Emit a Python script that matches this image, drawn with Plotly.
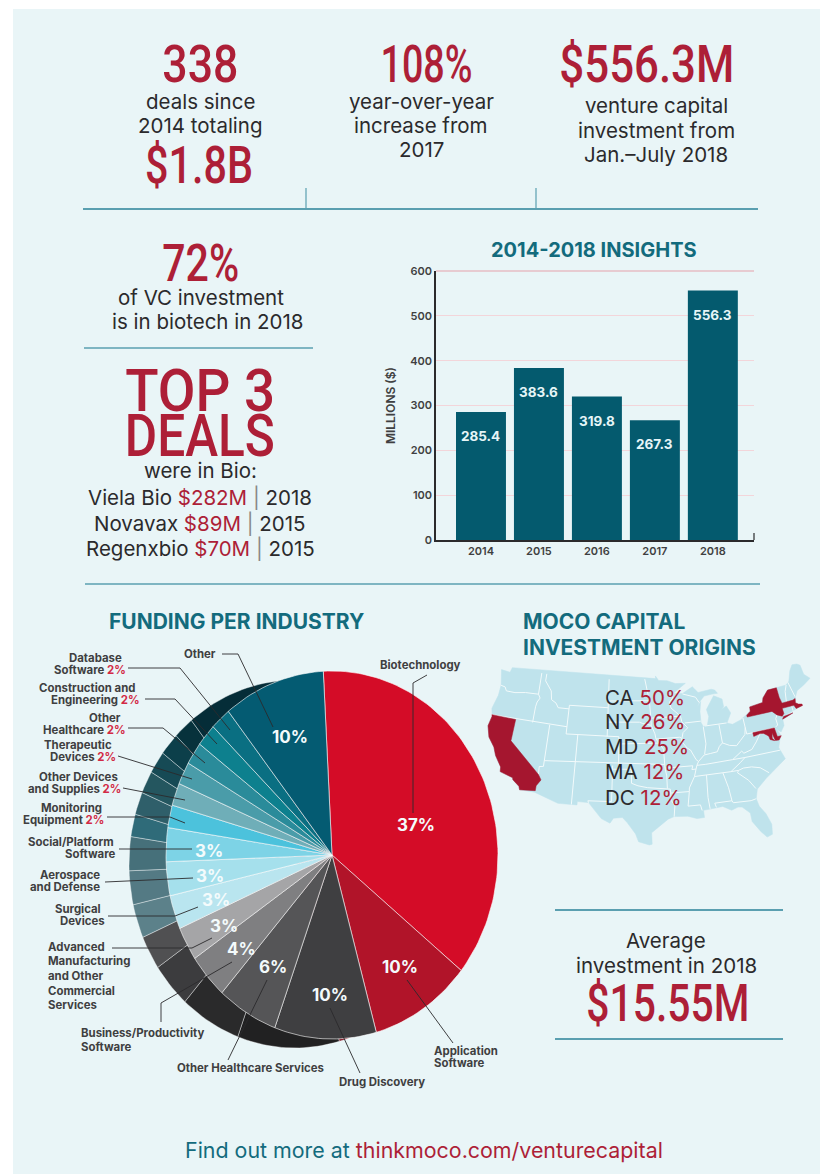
import math
import plotly.graph_objects as go

# ---------- data ----------
YEARS = ["2014", "2015", "2016", "2017", "2018"]
VC_MILLIONS = [285.4, 383.6, 319.8, 267.3, 556.3]

INDUSTRIES = ["Biotechnology", "Application Software", "Drug Discovery", "Other Healthcare Services",
              "Business/Productivity Software", "Advanced Manufacturing and Other Commercial Services",
              "Surgical Devices", "Aerospace and Defense", "Social/Platform Software",
              "Monitoring Equipment", "Other Devices and Supplies", "Therapeutic Devices",
              "Other Healthcare", "Construction and Engineering", "Database Software", "Other"]
SHARES = [37, 10, 10, 6, 4, 3, 3, 3, 3, 2, 2, 2, 2, 2, 2, 10]
FACE_COLORS = ["#d40c27", "#b11429", "#3f3f41", "#555557", "#7f7f81", "#a5a5a7", "#b9e5ef", "#a5e0ec",
               "#7dd3e6", "#4cc2dc", "#6faeb8", "#4a9ca9", "#2a8b9a", "#0d808e", "#0a6f82", "#045b72"]
SIDE_COLORS = ["#8f0a1c", "#7d0e1d", "#212122", "#2a2a2b", "#3c3c3e", "#505052", "#5c818a", "#547a84",
               "#46707a", "#2f6b79", "#2f5f6a", "#24565f", "#164a55", "#0c3f4a", "#07323c", "#052d38"]

STATES = ["CA", "NY", "MD", "MA", "DC"]
STATE_PCT = ["50%", "26%", "25%", "12%", "12%"]

USA_OUTLINE = [(-124.7,48.4),(-123.0,48.3),(-122.8,49.0),(-95.15,49.0),(-95.15,49.38),(-94.6,48.7),(-93.0,48.6),(-91.5,48.1),(-89.6,48.0),(-92.1,46.75),(-90.4,46.6),(-88.4,47.4),(-87.5,46.5),(-85,46.7),(-84.4,46.5),(-84,46),(-85,46.0),(-86.5,45.9),(-87.6,45.1),(-88,44.55),(-87.3,45.2),(-87.7,43.8),(-87.8,42.3),(-87.5,41.7),(-86.8,41.8),(-86.3,43),(-86.5,44),(-85.5,45),(-84.8,45.75),(-83.4,45.1),(-83.4,44),(-83.9,43.7),(-82.9,44.05),(-82.4,43),(-83.1,42.2),(-83.4,41.7),(-82.5,41.4),(-81,41.8),(-79,42.7),(-78.9,43.3),(-76.5,43.5),(-76.2,44.1),(-75,45),(-71.5,45),(-70.8,45.4),(-70.3,46.2),(-70,46.7),(-69.2,47.45),(-68.3,47.35),(-67.8,47.05),(-67.8,45.7),(-67,44.9),(-68.5,44.3),(-70,43.8),(-70.7,43),(-70.8,42.6),(-71,42.3),(-70.6,41.95),(-70,41.8),(-70.5,41.6),(-71.2,41.5),(-72,41.3),(-73.7,40.95),(-72,41.05),(-73.9,40.55),(-74,40.5),(-74.1,39.7),(-74.9,38.95),(-75.5,39.5),(-75.1,38.6),(-75.9,37.15),(-76,36.9),(-75.5,35.25),(-76.5,34.7),(-77.9,33.9),(-79.2,33.2),(-80.9,32),(-81.4,30.7),(-81.2,29.6),(-80.5,28.4),(-80.05,26.8),(-80.3,25.4),(-81.1,25.15),(-81.8,26.1),(-82.7,27.7),(-82.7,28.9),(-83.7,29.9),(-84.3,30),(-85.3,29.7),(-86.5,30.4),(-88,30.3),(-89.4,30.2),(-89.4,29.2),(-90.5,29.15),(-91.8,29.6),(-93.8,29.7),(-94.7,29.4),(-96,28.5),(-97.2,27.6),(-97.2,26),(-97.6,25.9),(-99.1,26.4),(-99.5,27.5),(-100.7,29.1),(-101.4,29.8),(-102.7,29.7),(-103.2,29),(-104.5,29.6),(-106.5,31.75),(-108.2,31.8),(-108.2,31.33),(-111.07,31.33),(-114.8,32.5),(-117.1,32.53),(-117.3,33),(-118.4,33.75),(-118.5,34.03),(-120.6,34.55),(-120.7,35.2),(-121.9,36.6),(-122.5,37.7),(-123.7,38.9),(-124.35,40.4),(-124.1,41.8),(-124.5,42.85),(-124,44.8),(-124,46.3),(-124.7,48.4)]

STATE_BORDERS = [
 [(-124,46.25),(-123.2,46.15),(-122.8,45.65),(-121.2,45.65),(-119.3,45.93),(-116.92,46.0)],
 [(-117.03,49),(-117.04,46.4),(-116.92,46),(-116.5,45.5),(-116.9,44.9),(-117.03,44.2),(-117.03,42)],
 [(-124.2,42),(-111.05,42)],
 [(-114.04,42),(-114.04,36.2),(-114.7,36.1),(-114.63,35)],
 [(-114.04,37),(-94.62,37)],
 [(-109.05,41),(-109.05,31.33)],
 [(-103,37),(-103,36.5),(-103.04,32),(-106.62,32),(-106.5,31.75)],
 [(-103,36.5),(-100,36.5),(-100,34.56),(-99,34.2),(-97.5,33.9),(-96,33.75),(-94.48,33.65),(-94.04,33.55),(-94.04,31.99),(-93.55,31.2),(-93.8,29.7)],
 [(-111.05,45),(-104.05,45)],[(-111.05,41),(-102.05,41),(-102.05,37)],[(-111.05,45),(-111.05,41)],[(-104.05,49),(-104.05,41)],
 [(-116.05,49),(-116.05,48),(-114.7,46.7),(-114.4,45.5),(-113.5,45.1),(-113,44.5),(-111.05,44.5)],
 [(-102.05,40),(-95.3,40)],
 [(-104.05,43),(-98.5,43),(-97.9,42.8),(-96.45,42.5)],
 [(-104.05,45.94),(-96.56,45.94)],
 [(-97.23,49),(-96.56,45.94),(-96.45,43.5),(-91.22,43.5)],
 [(-95.77,40.58),(-91.73,40.6),(-91.4,40.4)],
 [(-96.45,43.5),(-96.45,42.5),(-95.9,41.3),(-95.77,40.58),(-95.3,40),(-94.62,39.1),(-94.62,36.5),(-94.43,35.4),(-94.48,33.65)],
 [(-94.62,36.5),(-90.15,36.5),(-90.37,36),(-89.7,36)],
 [(-94.04,33),(-91.17,33)],
 [(-92.1,46.75),(-92.3,46.1),(-92.9,45.6),(-92.75,44.75),(-91.22,43.5),(-91.1,42.7),(-90.2,41.8),(-91.1,41.2),(-91.4,40.4),(-91.5,40),(-90.7,39),(-90.2,38.7),(-89.5,37.3),(-89.15,37),(-89.5,36.5),(-89.7,36),(-90.1,35),(-91.1,33.5),(-91.17,33),(-91.6,31),(-89.75,31),(-89.6,30.2)],
 [(-90.64,42.5),(-87.8,42.5)],[(-90.4,46.55),(-88.1,45.9),(-87.6,45.1)],
 [(-87.53,41.7),(-87.53,39.3),(-88,37.9)],
 [(-89.15,37),(-88.1,37.8),(-87,37.9),(-85.9,38),(-85.4,38.7),(-84.8,39.1),(-83.7,38.6),(-82.6,38.4),(-81.8,39),(-80.85,39.7),(-80.52,40.64)],
 [(-84.8,41.7),(-84.8,39.1)],[(-87.2,41.76),(-84.8,41.7),(-83.45,41.73)],
 [(-80.52,42),(-80.52,39.72),(-75.79,39.72)],
 [(-74.7,41.36),(-75.1,40.9),(-75.1,40.0),(-75.5,39.8)],
 [(-81.97,37.54),(-81.7,37.2),(-80.3,37.5),(-79.3,38.4),(-78.35,39.4),(-77.75,39.32)],
 [(-81.97,37.54),(-83.68,36.6)],
 [(-89.5,36.5),(-88.05,36.5),(-83.68,36.6),(-81.68,36.59),(-75.87,36.55)],
 [(-81.68,36.59),(-82.6,36),(-84.32,35),(-83.1,35),(-82.3,35.2),(-81,35.15),(-79.7,34.8),(-78.55,33.87)],
 [(-90.1,35),(-84.32,35)],
 [(-83.1,35),(-83.35,34.7),(-81.9,33.4),(-81.1,32.1)],
 [(-85.6,34.98),(-85.15,32.85),(-85,31)],
 [(-87.6,31),(-85,31),(-84.86,30.7),(-82.2,30.57),(-81.45,30.7)],
 [(-88.2,35),(-88.47,31.9),(-88.4,30.3)],[(-87.6,31),(-87.45,30.4)],
 [(-71.5,45),(-72.05,44.2),(-72.45,42.73)],[(-71.05,45.3),(-70.7,43.1)],
 [(-71.8,42.02),(-71.85,41.32)],
]

STATE_SHAPES = {
 "CA": [(-124.2,42),(-120,42),(-120,39),(-114.63,35),(-114.1,34.3),(-114.7,33.4),(-114.72,32.72),(-117.1,32.53),(-117.3,33),(-118.4,33.75),(-118.5,34.03),(-120.6,34.55),(-120.7,35.2),(-121.9,36.6),(-122.5,37.7),(-123.7,38.9),(-124.35,40.4),(-124.1,41.8),(-124.2,42)],
 "NY": [(-79.76,42.27),(-79.76,42),(-75.35,42),(-74.7,41.36),(-73.9,41),(-73.5,41.3),(-73.5,42.05),(-73.25,42.75),(-73.4,43.6),(-73.35,45),(-75,45),(-76.2,44.1),(-76.5,43.5),(-78.9,43.3),(-79,42.7),(-79.76,42.27)],
 "NY-LI": [(-74,40.6),(-72,41.05),(-73.7,40.9),(-74,40.6)],
 "MD": [(-79.48,39.72),(-75.79,39.72),(-75.7,38.46),(-75.05,38.45),(-75.6,37.95),(-76.2,38),(-76.4,39.1),(-76.6,38.4),(-76.3,38),(-77,38.3),(-77.05,38.8),(-77.75,39.32),(-78.35,39.4),(-79.48,39.2),(-79.48,39.72)],
 "MA": [(-73.5,42.05),(-71.4,42.02),(-71.2,41.5),(-70.6,41.6),(-70,41.65),(-70,41.85),(-70.6,42),(-71,42.3),(-70.8,42.87),(-71.25,42.74),(-73.27,42.75),(-73.5,42.05)],
 "DC": [(-77.12,38.93),(-77.04,39),(-76.91,38.89),(-77.04,38.79),(-77.12,38.93)],
}

# ---------- constants ----------
W, H = 821, 1174
RED = "#ad1f37"
TEAL = "#136b7d"
INK = "#2b2a2c"
RULE = "#5a9fb0"
BODY = "Inter, 'Open Sans', sans-serif"
BIG = "Roboto, sans-serif"

fig = go.Figure()

# ---------- projection for the map (Albers) ----------
def albers(lon, lat):
    p1, p2, p0, l0 = map(math.radians, (29.5, 45.5, 37.5, -101))
    n = (math.sin(p1) + math.sin(p2)) / 2
    c = math.cos(p1) ** 2 + 2 * n * math.sin(p1)
    rho = lambda p: math.sqrt(c - 2 * n * math.sin(p)) / n
    th = n * (math.radians(lon) - l0)
    r = rho(math.radians(lat))
    return r * math.sin(th), rho(p0) - r * math.cos(th)

_pts = [albers(*p) for p in USA_OUTLINE]
_x0, _x1 = min(p[0] for p in _pts), max(p[0] for p in _pts)
_y0, _y1 = min(p[1] for p in _pts), max(p[1] for p in _pts)
MAP_L, MAP_R, MAP_T, MAP_B = 488, 810, 664, 845
def to_px(path):
    xs, ys = [], []
    for lon, lat in path:
        ax, ay = albers(lon, lat)
        xs.append(MAP_L + (ax - _x0) / (_x1 - _x0) * (MAP_R - MAP_L))
        ys.append(MAP_B - (ay - _y0) / (_y1 - _y0) * (MAP_B - MAP_T))
    return xs, ys

# ---------- elliptical pie with a side band ----------
CX, CY, RX, RY = 332, 855, 166, 184
DEPTH_X, DEPTH_Y = -37, 9
START_DEG = -3.0
def wedge(cx, cy, a0, a1):
    n = max(2, int((a1 - a0) / 1.5))
    xs, ys = [cx], [cy]
    for i in range(n + 1):
        t = math.radians(a0 + (a1 - a0) * i / n)
        xs.append(cx + RX * math.sin(t))
        ys.append(cy - RY * math.cos(t))
    xs.append(cx); ys.append(cy)
    return xs, ys

_total = sum(SHARES)
_bounds = [START_DEG]
for s in SHARES:
    _bounds.append(_bounds[-1] + s / _total * 360)

for i, name in enumerate(INDUSTRIES):
    xs, ys = wedge(CX + DEPTH_X, CY + DEPTH_Y, _bounds[i], _bounds[i + 1])
    fig.add_trace(go.Scatter(x=xs, y=ys, mode="lines", fill="toself", fillcolor=SIDE_COLORS[i],
                             line=dict(color="rgba(255,255,255,0.55)", width=0.7),
                             hoverinfo="skip", showlegend=False))
for i, name in enumerate(INDUSTRIES):
    xs, ys = wedge(CX, CY, _bounds[i], _bounds[i + 1])
    fig.add_trace(go.Scatter(x=xs, y=ys, mode="lines", fill="toself", fillcolor=FACE_COLORS[i],
                             line=dict(color="rgba(255,255,255,0.75)", width=0.8),
                             name=name, text=f"{name}: {SHARES[i]}%", hoverinfo="text", showlegend=False))

# ---------- map ----------
xs, ys = to_px(USA_OUTLINE)
fig.add_trace(go.Scatter(x=xs, y=ys, mode="lines", fill="toself", fillcolor="#bfe3ec",
                         line=dict(color="#bfe3ec", width=0.5), hoverinfo="skip", showlegend=False))
for seg in STATE_BORDERS:
    xs, ys = to_px(seg)
    fig.add_trace(go.Scatter(x=xs, y=ys, mode="lines", line=dict(color="#f2fafb", width=1),
                             hoverinfo="skip", showlegend=False))
for key, path in STATE_SHAPES.items():
    xs, ys = to_px(path)
    fig.add_trace(go.Scatter(x=xs, y=ys, mode="lines", fill="toself", fillcolor="#a5162f",
                             line=dict(color="#a5162f", width=0.5), hoverinfo="skip", showlegend=False))

# ---------- bars ----------
fig.add_trace(go.Bar(x=YEARS, y=VC_MILLIONS, xaxis="x2", yaxis="y2", width=0.862,
                     marker=dict(color="#045a6e", line=dict(width=0)),
                     hovertemplate="%{x}: %{y}<extra></extra>", showlegend=False))

# ---------- annotations ----------
anns = []
def T(x, y, text, size, color=INK, font=BODY, anchor="center", align=None, weight=None):
    f = dict(size=size, color=color, family=font)
    if weight:
        f["weight"] = weight
    anns.append(dict(x=x, y=y, xref="x", yref="y", text=text, showarrow=False, xanchor=anchor, yanchor="middle",
                     align=align or anchor, font=f))

BS = 20.5
HEADLINES = {"338": (200, 64, 76), "$1.8B": (199, 165, 108), "108%": (426, 64, 92), "$556.3M": (647, 64, 175),
             "72%": (200, 263, 77), "TOP 3": (200, 390, 150), "DEALS": (200, 435, 150), "$15.55M": (668, 1003, 163)}
for k, (x, y, w) in HEADLINES.items():
    T(x, y, k, 52 if k not in ("TOP 3", "DEALS") else 60, RED, BIG, weight=500)
T(200, 101, "deals since", BS)
T(200, 125, "2014 totaling", BS)
T(421, 101, "year-over-year", BS)
T(421, 125, "increase from", BS)
T(421, 149, "2017", BS)
T(656, 105, "venture capital", BS)
T(656, 130, "investment from", BS)
T(656, 154, "Jan.–July 2018", BS)
T(201, 297, "of VC investment", BS)
T(208, 321, "is in biotech in 2018", BS)
T(200, 470, "were in Bio:", BS)
DEALS = [("Viela Bio", "$282M", "2018", 497), ("Novavax", "$89M", "2015", 523), ("Regenxbio", "$70M", "2015", 548)]
for a, b, c, y in DEALS:
    T(200, y, f'{a} <span style="color:{RED}">{b}</span> <span style="color:#888">|</span> {c}', BS)

T(594, 250, "<b>2014-2018 INSIGHTS</b>", 20, TEAL)
T(236, 621, "<b>FUNDING PER INDUSTRY</b>", 21, TEAL)
T(521, 621, "<b>MOCO CAPITAL</b>", 21, TEAL, anchor="left")
T(521, 647, "<b>INVESTMENT ORIGINS</b>", 21, TEAL, anchor="left")
for s, p, y in zip(STATES, STATE_PCT, [697, 721, 746, 771, 797]):
    T(603, y, f'{s} <span style="color:{RED}">{p}</span>', BS, anchor="left")

T(666, 940, "Average", BS)
T(666, 965, "investment in 2018", BS)
T(424, 1150, f'Find out more at <span style="color:{RED}">thinkmoco.com/venturecapital</span>', 21.4, TEAL)

# pie labels, line by line
G = "#3f3f41"
R2 = '<span style="color:#d22a45">2%</span>'
LBL = 11.4
CENTRED_LINES = [("Database", 95, 658), (f"Software {R2}", 90, 670), ("Construction and", 87, 688), (f"Engineering {R2}", 95, 700),
                 ("Other", 105, 718), (f"Healthcare {R2}", 84, 730), ("Therapeutic", 78, 745), (f"Devices {R2}", 83, 757),
                 ("Other Devices", 78, 777), (f"and Supplies {R2}", 74, 789), ("Monitoring", 71, 808), (f"Equipment {R2}", 63, 820),
                 ("Social/Platform", 71, 842), ("Software", 90, 854), ("Aerospace", 70, 875), ("and Defense", 65, 887),
                 ("Surgical", 78, 909), ("Devices", 82, 921), ("Other Healthcare Services", 250, 1068), ("Drug Discovery", 382, 1082),
                 ("Other", 200, 654), ("Biotechnology", 420, 665)]
LEFT_LINES = [("Advanced", 46, 947), ("Manufacturing", 46, 961), ("and Other", 46, 976), ("Commercial", 46, 991), ("Services", 46, 1005),
              ("Business/Productivity", 79, 1033), ("Software", 79, 1047), ("Application", 432, 1051), ("Software", 432, 1063)]
for t, x, y in CENTRED_LINES:
    T(x, y, f"<b>{t}</b>", LBL, G)
for t, x, y in LEFT_LINES:
    T(x, y, f"<b>{t}</b>", LBL, G, anchor="left")

# pie percentages
PCT_LABELS = [("10%", 290, 737), ("37%", 416, 825), ("10%", 400, 967), ("10%", 330, 995), ("6%", 273, 967),
              ("4%", 241, 949), ("3%", 224, 926), ("3%", 216, 900), ("3%", 210, 876), ("3%", 209, 851)]
for t, x, y in PCT_LABELS:
    T(x, y, f"<b>{t}</b>", 17, "#f4fbfc")

# bar value labels
for i, v in enumerate(VC_MILLIONS):
    anns.append(dict(x=i, y=v, xref="x2", yref="y2", text=f"<b>{v}</b>", showarrow=False, yanchor="middle",
                     yshift=-24, font=dict(size=13.5, color="#e6f5f7", family=BODY)))

# ---------- shapes ----------
shapes = [dict(type="rect", xref="x", yref="y", x0=13, x1=820, y0=9, y1=H, fillcolor="#e9f5f7",
               line=dict(width=0), layer="below")]
def L(pts, color=RULE, width=2):
    for (a, b), (c, d) in zip(pts, pts[1:]):
        shapes.append(dict(type="line", xref="x", yref="y", x0=a, y0=b, x1=c, y1=d,
                           line=dict(color=color, width=width), layer="above"))
L([(83, 209), (758, 209)])
L([(306, 188), (306, 208)], width=1.2)
L([(536, 188), (536, 208)], width=1.2)
L([(84, 348), (313, 348)], width=1.5)
L([(85, 584), (760, 584)], width=1.5)
L([(555, 910), (783, 910)])
L([(555, 1039), (783, 1039)])
L([(754, 533), (754, 540)], INK, 1.2)
L([(436, 271), (754, 271)], "#e6a2ab", 1.2)

LEADERS = [
 [(222,654),(238,654),(273,727)], [(427,675),(413,683),(413,813)],
 [(128,668),(180,668),(230,730)], [(145,699),(175,699),(217,744)],
 [(128,728),(163,728),(205,763)], [(118,756),(192,779)], [(123,788),(185,800)],
 [(107,817),(170,817),(185,823)], [(119,849),(192,849)], [(105,882),(193,878)],
 [(108,916),(175,916),(198,907)], [(112,948),(192,948),(212,938)],
 [(161,1022),(161,1003),(232,962)], [(228,1060),(267,980)], [(360,1073),(330,1008)],
 [(453,1043),(407,980)],
]
for p in LEADERS:
    L(p, "#2b2a2c", 0.9)

# ---------- layout ----------
AX = dict(size=11, color=G, family=BODY, weight=600)
fig.update_layout(
    width=W, height=H, margin=dict(l=0, r=0, t=0, b=0, pad=0), autosize=False,
    paper_bgcolor="white", plot_bgcolor="rgba(0,0,0,0)", showlegend=False,
    annotations=anns, shapes=shapes, hovermode="closest",
    xaxis=dict(range=[0, W], visible=False, fixedrange=True, domain=[0, 1], automargin=False),
    yaxis=dict(range=[H, 0], visible=False, fixedrange=True, domain=[0, 1], automargin=False),
    xaxis2=dict(anchor="y2", domain=[436 / W, 754 / W], type="category", range=[-0.776, 4.71], fixedrange=True,
                automargin=False, showline=True, linecolor=INK, linewidth=1.5, showgrid=False, ticks="", tickfont=AX),
    yaxis2=dict(anchor="x2", domain=[1 - 540 / H, 1 - 271 / H], range=[0, 600], dtick=100, fixedrange=True,
                automargin=False, showline=True, linecolor=INK, linewidth=1.5, gridcolor="#f3d5da", gridwidth=1,
                zeroline=False, ticks="", tickfont=AX,
                title=dict(text="MILLIONS ($)", font=dict(size=12, color=G, family=BODY, weight=600), standoff=12)),
)

# Narrow the headline text to the reference's condensed widths (no condensed face is installed).
_fit = ",".join(f'"{k}":{v[2]}' for k, v in HEADLINES.items())
POST = ("document.body.style.margin='0';document.documentElement.style.overflow='hidden';"
        "var fit={" + _fit + "};"
        "document.querySelectorAll('.annotation-text').forEach(function(t){"
        "var w=fit[t.textContent];if(w){t.setAttribute('textLength',w);t.setAttribute('lengthAdjust','spacingAndGlyphs');}});")
fig.write_html("out.html", config={"displayModeBar": False}, post_script=POST)
